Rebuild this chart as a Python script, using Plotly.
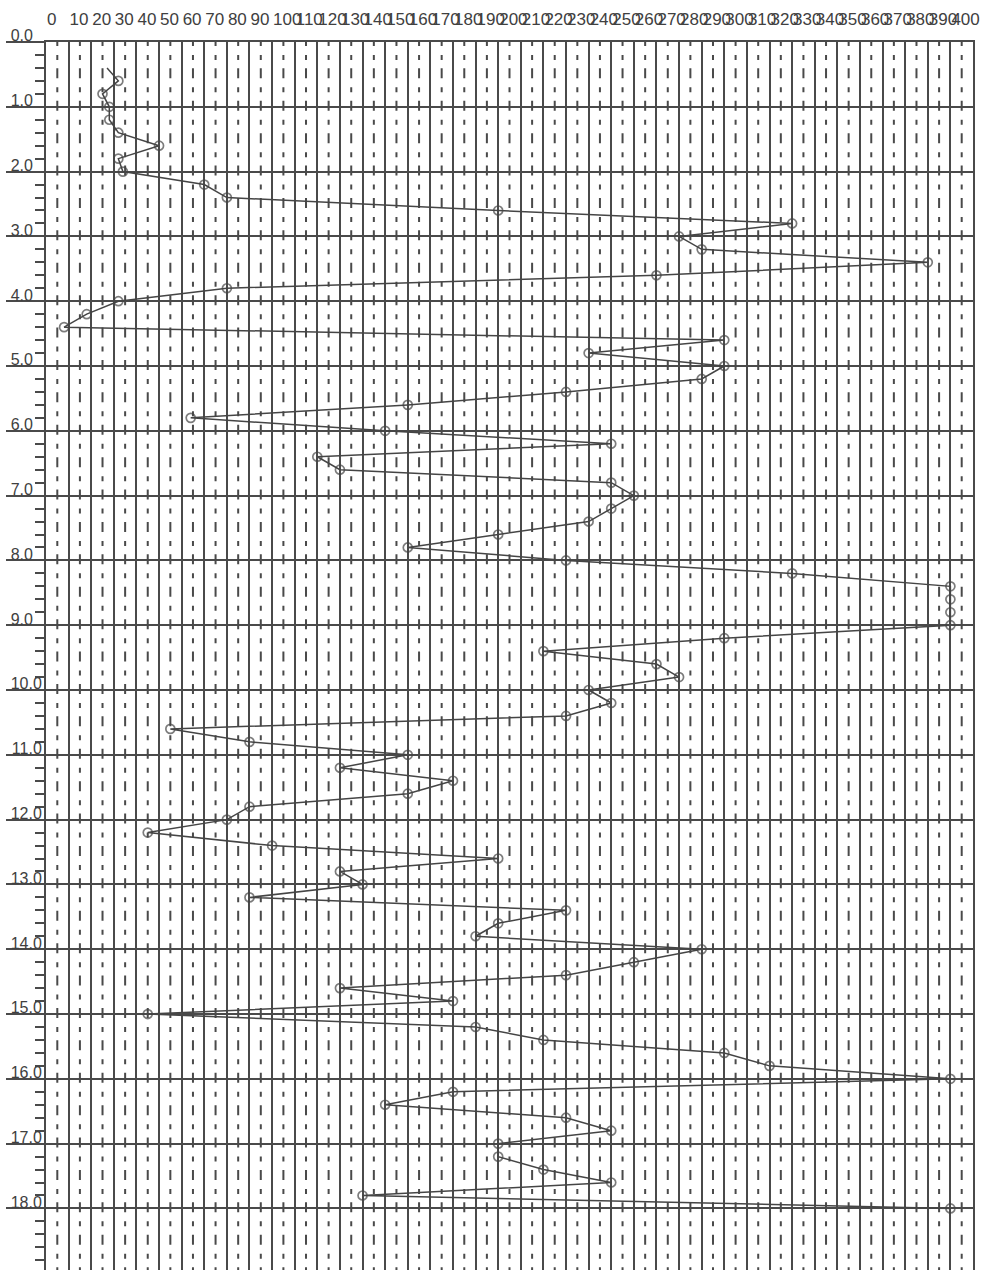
import plotly.graph_objects as go

# Depth (m) of each reading, top to bottom
depth = [0.4, 0.6, 0.8, 1.0, 1.2, 1.4, 1.6, 1.8, 2.0, 2.2, 2.4, 2.6, 2.8, 3.0, 3.2,
         3.4, 3.6, 3.8, 4.0, 4.2, 4.4, 4.6, 4.8, 5.0, 5.2, 5.4, 5.6, 5.8, 6.0, 6.2,
         6.4, 6.6, 6.8, 7.0, 7.2, 7.4, 7.6, 7.8, 8.0, 8.2, 8.4, 8.6, 8.8, 9.0,
         9.2, 9.4, 9.6, 9.8, 10.0, 10.2, 10.4, 10.6, 10.8, 11.0, 11.2, 11.4, 11.6, 11.8, 12.0,
         12.2, 12.4, 12.6, 12.8, 13.0, 13.2, 13.4, 13.6, 13.8, 14.0, 14.2, 14.4, 14.6, 14.8, 15.0,
         15.2, 15.4, 15.6, 15.8, 16.0, 16.2, 16.4, 16.6, 16.8, 17.0, 17.2, 17.4, 17.6, 17.8, 18.0]

# Reading value at each depth
value = [27, 32, 25, 28, 28, 32, 50, 32, 34, 70, 80, 200, 330, 280, 290,
         390, 270, 80, 32, 18, 8, 300, 240, 300, 290, 230, 160, 64, 150, 250,
         120, 130, 250, 260, 250, 240, 200, 160, 230, 330, 400, 400, 400, 400,
         300, 220, 270, 280, 240, 250, 230, 55, 90, 160, 130, 180, 160, 90, 80,
         45, 100, 200, 130, 140, 90, 230, 200, 190, 290, 260, 230, 130, 180, 45,
         190, 220, 300, 320, 400, 180, 150, 230, 250, 200, 200, 220, 250, 140, 400]

# first point is the start of the trace line only (no marker drawn)
marker_visible = [0] + [1] * (len(depth) - 1)

x_tick_vals = list(range(0, 401, 10))
x_tick_text = [str(v) for v in x_tick_vals]
y_tick_vals = list(range(0, 19))
y_tick_text = [f"{v:.1f}" + ("\u2007" if v < 10 else "") for v in y_tick_vals]
dash_positions = [v + 5 for v in range(0, 410, 10)]

INK = "#4a4a4a"
FONT = "Liberation Sans, Arial, sans-serif"

fig = go.Figure()
fig.add_trace(go.Scatter(
    x=value, y=depth, mode="lines+markers",
    line=dict(color="#454545", width=1.5),
    marker=dict(symbol="circle-open", size=[9 * m for m in marker_visible],
                color="#454545", line=dict(width=1.7, color="#454545")),
    showlegend=False, hoverinfo="x+y"))

for xd in dash_positions:
    fig.add_shape(type="line", xref="x", yref="y", x0=xd, x1=xd, y0=-0.093, y1=19.2,
                  line=dict(color=INK, width=2, dash="10px,9px,5px,8.4px"), layer="below")

fig.update_layout(
    width=986, height=1270,
    margin=dict(l=46, r=13, t=42, b=0),
    paper_bgcolor="white", plot_bgcolor="white",
    font=dict(family=FONT, size=16, color="#404040"),
    xaxis=dict(side="top", range=[0, 410], tickmode="array",
               tickvals=x_tick_vals, ticktext=x_tick_text, tickangle=0,
               tickfont=dict(size=17),
               ticks="", ticklabelposition="outside right", ticklabelstandoff=8,
               showgrid=True, gridcolor=INK, gridwidth=1.7,
               showline=True, linecolor=INK, linewidth=2, mirror=False,
               zeroline=False, fixedrange=True),
    yaxis=dict(range=[18.95, 0], tickmode="array",
               tickvals=y_tick_vals, ticktext=y_tick_text,
               ticks="outside", ticklen=38, tickwidth=2, tickcolor=INK,
               ticklabelposition="outside top", ticklabelstandoff=-1,
               ticklabelshift=-6,
               minor=dict(dtick=0.2, ticks="outside", ticklen=9, tickwidth=2,
                          tickcolor=INK, showgrid=False),
               showgrid=True, gridcolor=INK, gridwidth=2,
               showline=True, linecolor=INK, linewidth=2, mirror=True,
               zeroline=False, fixedrange=True),
)

fig.write_html("out.html")
